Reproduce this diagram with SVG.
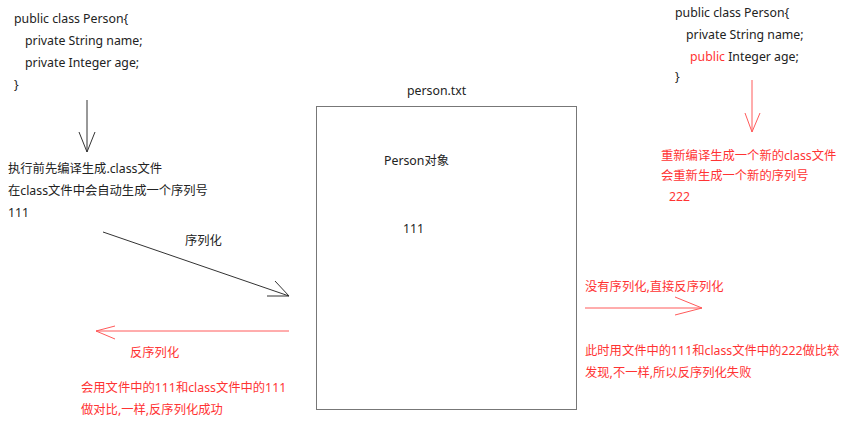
<svg xmlns="http://www.w3.org/2000/svg" width="857" height="436" viewBox="0 0 857 436">
<style>
text{font-family:"Noto Sans","Noto Sans CJK SC",sans-serif;font-size:12.3px;fill:#222}
.r{fill:#ff3333}
.k{stroke:#333;stroke-width:1;fill:none}
.p{stroke:#ff5a5a;stroke-width:1;fill:none}
</style>
<rect width="857" height="436" fill="#fff"/>
<g id="code-left">
<text x="14" y="23">public class Person{</text>
<text x="25" y="45">private String name;</text>
<text x="25" y="67">private Integer age;</text>
<text x="14" y="89">}</text>
</g>
<g id="note-left">
<text x="8" y="173">执行前先编译生成.class文件</text>
<text x="8" y="195">在class文件中会自动生成一个序列号</text>
<text x="8" y="217">111</text>
</g>
<g id="code-right">
<text x="675" y="17">public class Person{</text>
<text x="686" y="39">private String name;</text>
<text x="690" y="61"><tspan class="r">public</tspan> Integer age;</text>
<text x="675" y="81">}</text>
</g>
<g id="note-right">
<text class="r" x="661" y="160">重新编译生成一个新的class文件</text>
<text class="r" x="661" y="180">会重新生成一个新的序列号</text>
<text class="r" x="669" y="201">222</text>
</g>
<g id="person-file">
<text x="407" y="95">person.txt</text>
<rect x="316.5" y="106.5" width="260" height="303" fill="none" stroke="#777" stroke-width="1"/>
<text x="384" y="165">Person对象</text>
<text x="403" y="233">111</text>
</g>
<g id="labels">
<text x="185" y="245">序列化</text>
<text class="r" x="130" y="357">反序列化</text>
<text class="r" x="81" y="392">会用文件中的111和class文件中的111</text>
<text class="r" x="81" y="414">做对比,一样,反序列化成功</text>
<text class="r" x="585" y="291">没有序列化,直接反序列化</text>
<text class="r" x="585" y="355">此时用文件中的111和class文件中的222做比较</text>
<text class="r" x="585" y="377">发现,不一样,所以反序列化失败</text>
</g>
<g id="connectors">
<path class="k" d="M87 100V152M79 132L87 152L95 132"/>
<path class="p" d="M752 80V132M745 113L752 132L760 113"/>
<path class="k" d="M103 232L289 296M275 281L289 296L267 296"/>
<path class="p" d="M289 331H96M115 326L96 331L115 339"/>
<path class="p" d="M585 308H702M675 297L702 308L675 315"/>
</g>
</svg>
